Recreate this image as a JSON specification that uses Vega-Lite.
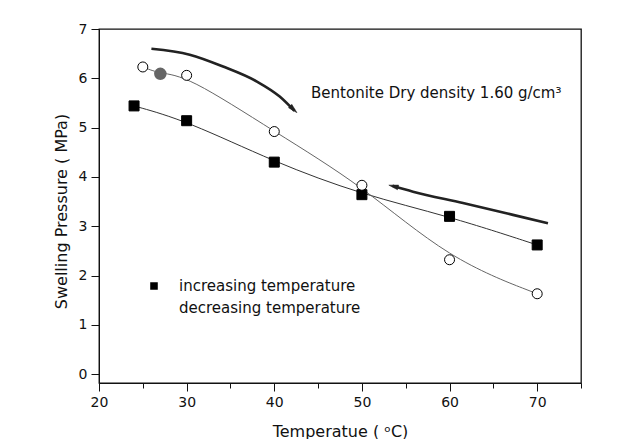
{
  "$schema": "https://vega.github.io/schema/vega-lite/v6.json",
  "width": 482,
  "height": 354,
  "autosize": {"type": "none"},
  "padding": {"left": 99, "top": 29, "right": 52, "bottom": 56},
  "background": "white",
  "config": {
    "font": "DejaVu Sans",
    "view": {"stroke": "#111", "strokeWidth": 1.3}
  },
  "datasets": {
    "series": [
      {"series": "increasing temperature", "obs": "main", "t": 24, "p": 5.44},
      {"series": "increasing temperature", "obs": "main", "t": 30, "p": 5.14},
      {"series": "increasing temperature", "obs": "main", "t": 40, "p": 4.30},
      {"series": "increasing temperature", "obs": "main", "t": 50, "p": 3.64},
      {"series": "increasing temperature", "obs": "main", "t": 60, "p": 3.20},
      {"series": "increasing temperature", "obs": "main", "t": 70, "p": 2.62},
      {"series": "decreasing temperature", "obs": "main", "t": 25, "p": 6.23},
      {"series": "decreasing temperature", "obs": "repeat", "t": 27, "p": 6.09},
      {"series": "decreasing temperature", "obs": "main", "t": 30, "p": 6.06},
      {"series": "decreasing temperature", "obs": "main", "t": 40, "p": 4.92},
      {"series": "decreasing temperature", "obs": "main", "t": 50, "p": 3.83},
      {"series": "decreasing temperature", "obs": "main", "t": 60, "p": 2.32},
      {"series": "decreasing temperature", "obs": "main", "t": 70, "p": 1.63}
    ],
    "arrows": [
      {"arrow": "upper", "t": 25.98, "p": 6.60},
      {"arrow": "upper", "t": 30.35, "p": 6.48},
      {"arrow": "upper", "t": 34.15, "p": 6.24},
      {"arrow": "upper", "t": 37.96, "p": 5.94},
      {"arrow": "upper", "t": 40.62, "p": 5.63},
      {"arrow": "upper", "t": 42.3, "p": 5.34},
      {"arrow": "lower", "t": 53.5, "p": 3.82},
      {"arrow": "lower", "t": 55.83, "p": 3.70},
      {"arrow": "lower", "t": 61.53, "p": 3.47},
      {"arrow": "lower", "t": 67.24, "p": 3.23},
      {"arrow": "lower", "t": 71.23, "p": 3.06}
    ],
    "heads": [
      {"arrow": "upper", "t": 42.2, "p": 5.37},
      {"arrow": "lower", "t": 53.6, "p": 3.81}
    ],
    "notes": [
      {"t": 44.2, "p": 5.6, "label": "Bentonite Dry density 1.60 g/cm³"}
    ]
  },
  "layer": [
    {
      "data": {"name": "series"},
      "mark": {"type": "line", "interpolate": "basis", "strokeWidth": 1},
      "encoding": {
        "x": {
          "field": "t", "type": "quantitative",
          "scale": {"domain": [20, 75], "nice": false, "zero": false},
          "axis": {
            "title": "Temperatue ( ᵒC)",
            "values": [20, 25, 30, 35, 40, 45, 50, 55, 60, 65, 70, 75],
            "labelExpr": "datum.value % 10 === 0 ? datum.label : ''",
            "grid": false,
            "tickSize": {"condition": {"test": "datum.value % 10 !== 0", "value": 5}, "value": 8},
            "tickColor": "#111",
            "domainColor": "#111",
            "labelColor": "#111",
            "labelFontSize": 14,
            "labelPadding": 4,
            "labelFlush": false,
            "labelOverlap": false,
            "titleFontSize": 16,
            "titleFontWeight": "normal",
            "titleColor": "#111",
            "titlePadding": 14
          }
        },
        "y": {
          "field": "p", "type": "quantitative",
          "scale": {"domain": [-0.18, 7], "nice": false, "zero": false},
          "axis": {
            "title": "Swelling Pressure ( MPa)",
            "values": [0, 0.5, 1, 1.5, 2, 2.5, 3, 3.5, 4, 4.5, 5, 5.5, 6, 6.5, 7],
            "labelExpr": "datum.value % 1 === 0 ? datum.label : ''",
            "grid": false,
            "tickSize": {"condition": {"test": "datum.value % 1 !== 0", "value": 5}, "value": 8},
            "tickColor": "#111",
            "domainColor": "#111",
            "labelColor": "#111",
            "labelFontSize": 14,
            "labelPadding": 4,
            "labelFlush": false,
            "labelOverlap": false,
            "titleFontSize": 16,
            "titleFontWeight": "normal",
            "titleColor": "#111",
            "titlePadding": 9,
            "titleY": 182
          }
        },
        "detail": {"field": "series", "type": "nominal"},
        "stroke": {
          "condition": {"test": "datum.series === 'increasing temperature'", "value": "#333"},
          "value": "#666"
        }
      }
    },
    {
      "data": {"name": "series"},
      "transform": [{"filter": "datum.obs === 'main'"}],
      "mark": {"type": "point", "filled": true, "size": 1, "stroke": "#444", "strokeWidth": 1.2, "opacity": 1},
      "encoding": {
        "x": {"field": "t", "type": "quantitative"},
        "y": {"field": "p", "type": "quantitative"},
        "shape": {
          "field": "series", "type": "nominal",
          "scale": {
            "domain": ["increasing temperature", "decreasing temperature"],
            "range": ["M-2.2,0H-0.45M0.45,0H2.2M-0.42,-0.42H0.42V0.42H-0.42Z", "M-2.2,0H-0.5M0.5,0H2.2M-0.46,0A0.46,0.46,0,1,1,0.46,0A0.46,0.46,0,1,1,-0.46,0Z"]
          },
          "legend": {
            "title": null,
            "orient": "none",
            "legendX": 45,
            "legendY": 247,
            "padding": 0,
            "rowPadding": 4,
            "labelOffset": 15,
            "labelFontSize": 15,
            "labelLimit": 400,
            "labelColor": "#111",
            "symbolSize": 324,
            "symbolStrokeColor": "#444",
            "symbolStrokeWidth": 1.2,
            "symbolOpacity": 1
          }
        },
        "fill": {
          "field": "series", "type": "nominal",
          "scale": {"domain": ["increasing temperature", "decreasing temperature"], "range": ["#000000", "#ffffff"]},
          "legend": {
            "title": null,
            "orient": "none",
            "legendX": 45,
            "legendY": 247,
            "padding": 0,
            "rowPadding": 4,
            "labelOffset": 15,
            "labelFontSize": 15,
            "labelLimit": 400,
            "labelColor": "#111",
            "symbolSize": 324,
            "symbolStrokeColor": "#444",
            "symbolStrokeWidth": 1.2,
            "symbolOpacity": 1
          }
        }
      }
    },
    {
      "data": {"name": "series"},
      "transform": [{"filter": "datum.obs === 'main'"}],
      "mark": {"type": "point", "filled": true, "stroke": "#000", "strokeWidth": 1, "size": 100, "opacity": 1},
      "encoding": {
        "x": {"field": "t", "type": "quantitative"},
        "y": {"field": "p", "type": "quantitative"},
        "shape": {
          "condition": {"test": "datum.series === 'increasing temperature'", "value": "square"},
          "value": "circle"
        },
        "fill": {
          "condition": {"test": "datum.series === 'increasing temperature'", "value": "#000"},
          "value": "#fff"
        }
      }
    },
    {
      "data": {"name": "series"},
      "transform": [{"filter": "datum.obs === 'repeat'"}],
      "mark": {"type": "point", "filled": true, "fill": "#666", "stroke": "#666", "size": 110, "opacity": 1},
      "encoding": {
        "x": {"field": "t", "type": "quantitative"},
        "y": {"field": "p", "type": "quantitative"}
      }
    },
    {
      "data": {"name": "arrows"},
      "mark": {"type": "line", "interpolate": "monotone", "strokeWidth": 2.6, "color": "#222"},
      "encoding": {
        "x": {"field": "t", "type": "quantitative"},
        "y": {"field": "p", "type": "quantitative"},
        "detail": {"field": "arrow", "type": "nominal"}
      }
    },
    {
      "data": {"name": "heads"},
      "transform": [{"filter": "datum.arrow === 'upper'"}],
      "mark": {"type": "point", "shape": "M0,-1L0.5,1L-0.5,1Z", "angle": 134, "filled": true, "fill": "#222", "stroke": "#222", "strokeWidth": 0.5, "size": 90, "opacity": 1},
      "encoding": {
        "x": {"field": "t", "type": "quantitative"},
        "y": {"field": "p", "type": "quantitative"}
      }
    },
    {
      "data": {"name": "heads"},
      "transform": [{"filter": "datum.arrow === 'lower'"}],
      "mark": {"type": "point", "shape": "M0,-1L0.5,1L-0.5,1Z", "angle": 284, "filled": true, "fill": "#222", "stroke": "#222", "strokeWidth": 0.5, "size": 90, "opacity": 1},
      "encoding": {
        "x": {"field": "t", "type": "quantitative"},
        "y": {"field": "p", "type": "quantitative"}
      }
    },
    {
      "data": {"name": "notes"},
      "mark": {"type": "text", "align": "left", "baseline": "alphabetic", "fontSize": 15, "color": "#111"},
      "encoding": {
        "x": {"field": "t", "type": "quantitative"},
        "y": {"field": "p", "type": "quantitative"},
        "text": {"field": "label", "type": "nominal"}
      }
    }
  ]
}
